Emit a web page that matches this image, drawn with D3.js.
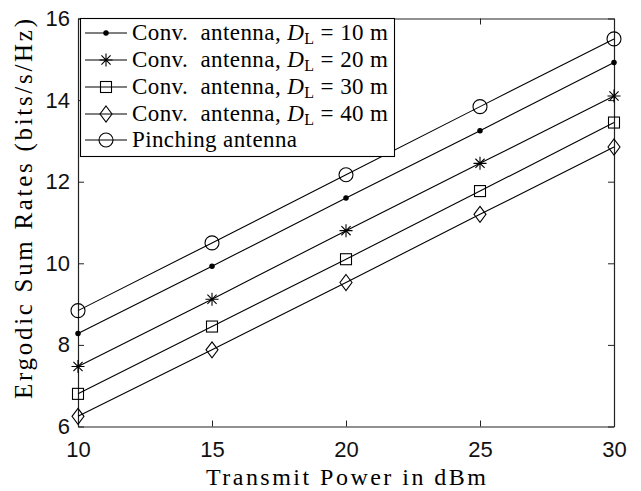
<!DOCTYPE html>
<html><head><meta charset="utf-8">
<script src="https://cdn.jsdelivr.net/npm/d3@7"></script>
<style>body{margin:0;background:#fff}</style>
</head><body>
<svg id="c" width="641" height="491"></svg>
<script>
const power = [10, 15, 20, 25, 30];
const convD10 = [8.28, 9.93, 11.60, 13.25, 14.92];
const convD20 = [7.47, 9.12, 10.80, 12.45, 14.10];
const convD30 = [6.80, 8.45, 10.10, 11.77, 13.45];
const convD40 = [6.25, 7.88, 9.53, 11.20, 12.85];
const pinching = [8.84, 10.50, 12.17, 13.84, 15.50];
const xTicks = [10, 15, 20, 25, 30];
const yTicks = [6, 8, 10, 12, 14, 16];
const series = [
  {name: "D10", values: convD10, marker: "dot", dl: "10"},
  {name: "D20", values: convD20, marker: "star", dl: "20"},
  {name: "D30", values: convD30, marker: "square", dl: "30"},
  {name: "D40", values: convD40, marker: "diamond", dl: "40"},
  {name: "Pinching antenna", values: pinching, marker: "circle", dl: null}
];

const L = 78, R = 614, T = 18.5, B = 426.5;
const svg = d3.select("#c");
const x = d3.scaleLinear().domain([10, 30]).range([L, R]);
const y = d3.scaleLinear().domain([6, 16]).range([B, T]);

const g = svg.append("g");
const tickFont = "'Liberation Sans', Arial, sans-serif";
const ax = g.append("g").attr("transform", `translate(0,${B})`)
  .call(d3.axisBottom(x).tickValues(xTicks).tickSizeInner(-6).tickSizeOuter(0).tickPadding(10));
const ay = g.append("g").attr("transform", `translate(${L},0)`)
  .call(d3.axisLeft(y).tickValues(yTicks).tickSizeInner(-6).tickSizeOuter(0).tickPadding(8));
const axT = g.append("g").attr("transform", `translate(0,${T})`)
  .call(d3.axisTop(x).tickValues(xTicks).tickSizeInner(-6).tickSizeOuter(0).tickFormat(""));
const ayR = g.append("g").attr("transform", `translate(${R},0)`)
  .call(d3.axisRight(y).tickValues(yTicks).tickSizeInner(-6).tickSizeOuter(0).tickFormat(""));
[ax, ay, axT, ayR].forEach(a => {
  a.selectAll("path.domain").attr("stroke", "#222").attr("stroke-width", 1.2);
  a.selectAll(".tick line").attr("stroke", "#222");
  a.selectAll("text").attr("font-family", tickFont).attr("font-size", 22).attr("fill", "#111");
});
ax.selectAll("text").attr("dy", "0.95em");

const line = d3.line().x((d, i) => x(power[i])).y(d => y(d));

function drawMarker(sel, type, cx, cy) {
  const s = sel.append("g").attr("transform", `translate(${cx},${cy})`)
    .attr("fill", "none").attr("stroke", "#000").attr("stroke-width", 1.1);
  if (type === "dot") s.append("circle").attr("r", 2.2).attr("fill", "#000");
  else if (type === "circle") s.append("circle").attr("r", 7);
  else if (type === "square") s.append("rect").attr("x", -5.5).attr("y", -5.5).attr("width", 11).attr("height", 11);
  else if (type === "diamond") s.append("path").attr("d", "M0,-8L6,0L0,8L-6,0Z");
  else if (type === "star") {
    s.append("path").attr("d", "M-6.5,0H6.5M0,-6.5V6.5M-4.6,-4.6L4.6,4.6M-4.6,4.6L4.6,-4.6");
  }
}

series.forEach(sr => {
  g.append("path").datum(sr.values).attr("d", line)
    .attr("fill", "none").attr("stroke", "#000").attr("stroke-width", 1.1);
  sr.values.forEach((v, i) => drawMarker(g, sr.marker, x(power[i]), y(v)));
});

// legend
const lg = svg.append("g");
lg.append("rect").attr("x", 80.5).attr("y", 18.5).attr("width", 314).attr("height", 138)
  .attr("fill", "#fff").attr("stroke", "#000").attr("stroke-width", 1.1);
const serif = "'Liberation Serif', 'Times New Roman', serif";
const rowY = [33, 60, 87, 114, 140];
series.forEach((sr, i) => {
  const yy = rowY[i];
  lg.append("line").attr("x1", 85).attr("x2", 127).attr("y1", yy).attr("y2", yy)
    .attr("stroke", "#000").attr("stroke-width", 1.1);
  drawMarker(lg, sr.marker, 106, yy);
  const t = lg.append("text").attr("x", 132).attr("y", yy + 7)
    .attr("font-family", serif).attr("font-size", 23).attr("fill", "#000");
  if (sr.dl) {
    t.append("tspan").text("Conv.\u00A0 antenna, ");
    t.append("tspan").attr("font-style", "italic").text("D");
    t.append("tspan").attr("font-size", 16).attr("dy", 4).text("L");
    t.append("tspan").attr("dy", -4).text(" = " + sr.dl + " m");
    t.attr("textLength", 256).attr("lengthAdjust", "spacing");
  } else {
    t.text("Pinching antenna").attr("textLength", 165).attr("lengthAdjust", "spacing");
  }
});

// axis titles
svg.append("text").attr("x", 346).attr("y", 485).attr("text-anchor", "middle")
  .attr("font-family", serif).attr("font-size", 24).attr("fill", "#000")
  .attr("textLength", 280).attr("lengthAdjust", "spacing")
  .text("Transmit Power in dBm");
svg.append("text").attr("transform", `translate(32,209) rotate(-90)`).attr("text-anchor", "middle")
  .attr("font-family", serif).attr("font-size", 25).attr("fill", "#000")
  .attr("textLength", 380).attr("lengthAdjust", "spacing")
  .text("Ergodic Sum Rates (bits/s/Hz)");
</script>
</body></html>
